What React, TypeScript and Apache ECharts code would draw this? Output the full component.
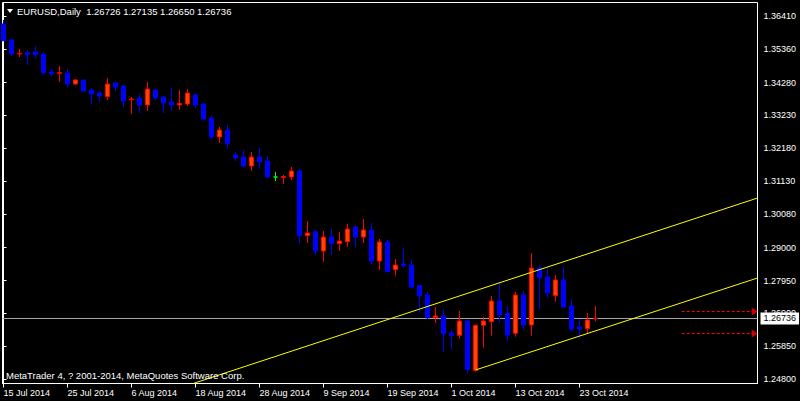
import React, { useEffect, useRef } from 'react';
import * as echarts from 'echarts';

const symbolTitle = 'EURUSD,Daily';
const copyright = 'MetaTrader 4, ? 2001-2014, MetaQuotes Software Corp.';

// tick labels on the time axis (every 8th bar)
const dateTickIndex = [0, 8, 16, 24, 32, 40, 48, 56, 64, 72];
const dateLabels = [
  '15 Jul 2014', '25 Jul 2014', '6 Aug 2014', '18 Aug 2014', '28 Aug 2014',
  '9 Sep 2014', '19 Sep 2014', '1 Oct 2014', '13 Oct 2014', '23 Oct 2014',
];

// price axis tick labels
const priceTicks = [
  1.248, 1.2585, 1.269, 1.2795, 1.29, 1.3008, 1.3113, 1.3218, 1.3323, 1.3428, 1.3536, 1.3641,
];

const opens = [
  1.36154, 1.35642, 1.35195, 1.35236, 1.35259, 1.35195, 1.34619, 1.34577, 1.34587, 1.34235,
  1.34363, 1.34043, 1.33947, 1.33829, 1.34267, 1.34171, 1.33736, 1.33787, 1.33564, 1.34043,
  1.33819, 1.33659, 1.33564, 1.33596, 1.33883, 1.33596, 1.33148, 1.3254, 1.32764, 1.31964,
  1.319, 1.31612, 1.319, 1.31772, 1.31261, 1.31245, 1.31261, 1.31453, 1.29383, 1.29511,
  1.28894, 1.29342, 1.29127, 1.29191, 1.29662, 1.29342, 1.29566, 1.28574, 1.29182, 1.28296,
  1.28478, 1.28446, 1.27784, 1.27487, 1.26767, 1.26815, 1.26271, 1.26198, 1.26655, 1.25078,
  1.26518, 1.26633, 1.27295, 1.26889, 1.26262, 1.27487, 1.26527, 1.2835, 1.28062, 1.27464,
  1.27966, 1.27135, 1.26463, 1.26409, 1.26726,
];
const highs = [
  1.36282, 1.35674, 1.35355, 1.35313, 1.35441, 1.35249, 1.34715, 1.34811, 1.34715, 1.34395,
  1.34385, 1.34098, 1.34002, 1.34427, 1.34299, 1.34203, 1.33819, 1.33915, 1.34299, 1.34075,
  1.3383, 1.34107, 1.34043, 1.34075, 1.33947, 1.3361, 1.33212, 1.3286, 1.32924, 1.3206,
  1.32124, 1.3206, 1.32188, 1.31932, 1.31421, 1.31325, 1.3158, 1.31517, 1.29853, 1.29575,
  1.29534, 1.29598, 1.29511, 1.29767, 1.29703, 1.29917, 1.2979, 1.29278, 1.29246, 1.28638,
  1.28999, 1.28616, 1.27807, 1.27583, 1.27103, 1.27017, 1.26367, 1.26975, 1.2671, 1.2653,
  1.26793, 1.27455, 1.27902, 1.27135, 1.27583, 1.27615, 1.2883, 1.28414, 1.2835, 1.28126,
  1.28382, 1.27359, 1.26719, 1.26911, 1.27135,
];
const lows = [
  1.3561, 1.3514, 1.35099, 1.34843, 1.35067, 1.34523, 1.34491, 1.34299, 1.34139, 1.34203,
  1.3397, 1.33595, 1.33659, 1.33723, 1.34011, 1.335, 1.33276, 1.33308, 1.33372, 1.33723,
  1.33308, 1.33372, 1.33404, 1.33532, 1.33468, 1.33052, 1.32476, 1.32348, 1.32156, 1.31772,
  1.3158, 1.31453, 1.31517, 1.3125, 1.31133, 1.31037, 1.31165, 1.2915, 1.2915, 1.28766,
  1.28552, 1.28766, 1.28894, 1.29022, 1.29022, 1.2915, 1.28446, 1.28296, 1.28222, 1.28104,
  1.2836, 1.27679, 1.26911, 1.26719, 1.26591, 1.25673, 1.2576, 1.26089, 1.24982, 1.25034,
  1.25801, 1.26185, 1.26601, 1.25993, 1.26153, 1.26367, 1.26185, 1.27017, 1.274, 1.27272,
  1.27081, 1.26313, 1.26089, 1.26271, 1.2665,
];
const closes = [
  1.3562, 1.35195, 1.35214, 1.35172, 1.35172, 1.34597, 1.34555, 1.34597, 1.34235, 1.34363,
  1.34011, 1.33915, 1.33851, 1.34235, 1.34139, 1.33691, 1.33755, 1.33564, 1.34075, 1.33797,
  1.33628, 1.33564, 1.33612, 1.33947, 1.33564, 1.33116, 1.3254, 1.32764, 1.32326, 1.31868,
  1.31612, 1.319, 1.3174, 1.31261, 1.31261, 1.31277, 1.31453, 1.29383, 1.2947, 1.28894,
  1.29342, 1.29127, 1.29214, 1.29598, 1.29342, 1.29566, 1.28574, 1.29182, 1.28232, 1.28446,
  1.28424, 1.27743, 1.27464, 1.26761, 1.26815, 1.26249, 1.26198, 1.26655, 1.2511, 1.26518,
  1.26655, 1.27295, 1.26847, 1.26207, 1.27487, 1.26527, 1.2835, 1.2804, 1.27551, 1.27966,
  1.27103, 1.26399, 1.26399, 1.26687, 1.26736,
];

// channel trend lines: [barIndex, price]
const upperChannel = [[23.75, 1.2466], [94.25, 1.30589]];
const lowerChannel = [[59, 1.25088], [94.25, 1.2803]];
// pending order levels (dashed red arrows)
const orderLevels = [1.26959, 1.26255];
const orderStart = 84.77;
const orderEnd = 93.56;
const orderArrow = 93.9;
const axisMinX = -0.125;
const axisMaxX = 94.25;

const FONT = '"Liberation Sans", Arial, sans-serif';

export default function App() {
  const ref = useRef<HTMLDivElement>(null);
  useEffect(() => {
    document.body.style.margin = '0';
    document.body.style.background = '#000';
    const chart = echarts.init(ref.current!, null, { renderer: 'svg' });
    const last = opens.length - 1;
    const lastClose = closes[last];
    const candleData = opens.map((o, i) => {
      const item: any = { value: [i, o, closes[i], lows[i], highs[i]] };
      if (o === closes[i]) {
        item.itemStyle = {
          color: '#00FF00', color0: '#00FF00', borderColor: '#00FF00',
          borderColor0: '#00FF00', borderColorDoji: '#00FF00',
        };
      }
      return item;
    });
    const header = `${symbolTitle}  ${opens[last].toFixed(5)} ${highs[last].toFixed(5)} ${lows[last].toFixed(5)} ${closes[last].toFixed(5)}`;

    const orderSeries: any[] = [];
    orderLevels.forEach((lvl) => {
      orderSeries.push({
        type: 'line',
        data: [[orderStart, lvl], [orderEnd, lvl]],
        symbol: 'none',
        silent: true,
        lineStyle: { color: '#FF0000', width: 1, type: [3, 2] },
        z: 4,
      });
      orderSeries.push({
        type: 'scatter',
        data: [[orderArrow, lvl]],
        symbol: 'triangle',
        symbolSize: [8, 6],
        symbolRotate: -90,
        silent: true,
        itemStyle: { color: '#FF0000' },
        z: 4,
      });
    });

    chart.setOption({
      animation: false,
      backgroundColor: '#000',
      textStyle: { fontFamily: FONT, fontSize: 9 },
      grid: {
        left: 2.5, right: 42.5, top: 2.5, bottom: 17.5,
        show: true, borderColor: '#FFFFFF', borderWidth: 1, backgroundColor: '#000',
      },
      xAxis: {
        type: 'value',
        min: axisMinX,
        max: axisMaxX,
        splitLine: { show: false },
        axisLine: { show: true, lineStyle: { color: '#FFFFFF', width: 1 } },
        axisTick: { show: true, customValues: dateTickIndex, length: 4, lineStyle: { color: '#FFFFFF' } },
        axisLabel: {
          customValues: dateTickIndex,
          formatter: (v: number) => dateLabels[Math.round(v / 8)] ?? '',
          color: '#FFFFFF', align: 'left', margin: 5, fontSize: 9, fontFamily: FONT,
        },
      },
      yAxis: {
        type: 'value',
        position: 'right',
        min: 1.246562,
        max: 1.368417,
        splitLine: { show: false },
        axisLine: { show: true, lineStyle: { color: '#FFFFFF', width: 1 } },
        axisTick: { show: true, customValues: priceTicks, length: 3, lineStyle: { color: '#FFFFFF' } },
        axisLabel: {
          customValues: priceTicks,
          formatter: (v: number) => v.toFixed(5),
          color: '#FFFFFF', margin: 6, fontSize: 9, fontFamily: FONT,
        },
      },
      series: [
        {
          type: 'line',
          data: [[axisMinX, lastClose], [axisMaxX, lastClose]],
          symbol: 'none',
          silent: true,
          lineStyle: { color: '#A8A8A8', width: 1 },
          z: 2,
          endLabel: {
            show: true,
            formatter: () => lastClose.toFixed(5),
            color: '#000', backgroundColor: '#FFFFFF', padding: [2, 3, 1, 3],
            distance: 3, fontSize: 9, fontFamily: FONT,
          },
        },
        {
          type: 'candlestick',
          data: candleData,
          encode: { x: 0, y: [1, 2, 3, 4] },
          barWidth: 4,
          itemStyle: {
            color: '#FF4500', color0: '#0000FF',
            borderColor: '#FF0000', borderColor0: '#0000FF', borderWidth: 1,
          },
          z: 3,
        },
        {
          type: 'line', data: upperChannel, symbol: 'none', silent: true,
          lineStyle: { color: '#FFFF00', width: 1 }, z: 4,
        },
        {
          type: 'line', data: lowerChannel, symbol: 'none', silent: true,
          lineStyle: { color: '#FFFF00', width: 1 }, z: 4,
        },
        ...orderSeries,
      ],
      graphic: [
        { type: 'polygon', shape: { points: [[7, 9], [13, 9], [10, 13]] }, style: { fill: '#FFFFFF' }, z: 10 },
        { type: 'text', left: 17, top: 6, style: { text: header, fill: '#FFFFFF', font: `9.5px ${FONT}` }, z: 10 },
        { type: 'text', left: 6, top: 370, style: { text: copyright, fill: '#FFFFFF', font: `9.5px ${FONT}` }, z: 10 },
      ],
    });
    return () => chart.dispose();
  }, []);
  return <div ref={ref} style={{ position: 'fixed', left: 0, top: 0, width: 800, height: 401, background: '#000' }} />;
}
